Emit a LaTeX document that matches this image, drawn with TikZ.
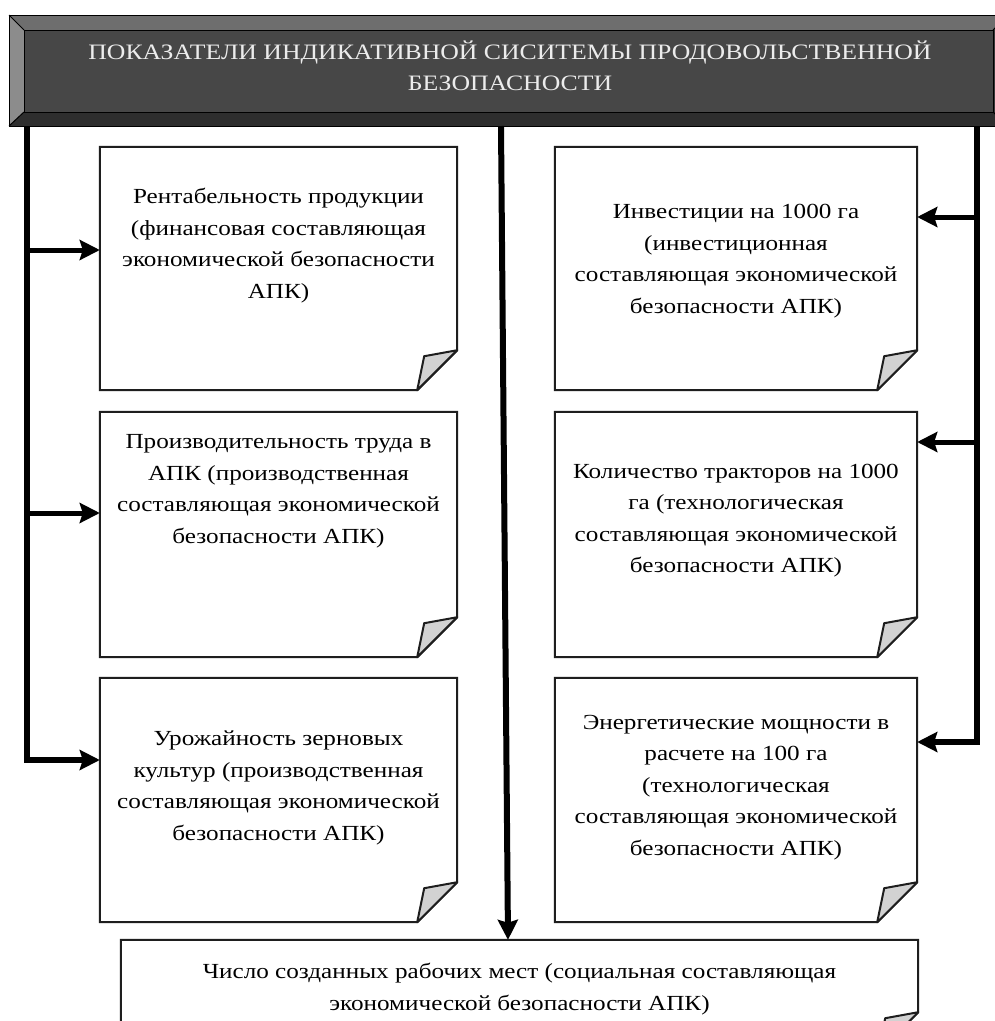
\documentclass[tikz,border=0pt]{standalone}
\usepackage{fontspec}
\setmainfont[FakeStretch=1.17]{Liberation Serif}
\usetikzlibrary{arrows.meta}
\definecolor{bevTop}{HTML}{6E6E6E}
\definecolor{bevLeft}{HTML}{8C8C8C}
\definecolor{bevBot}{HTML}{2E2E2E}
\definecolor{bevRight}{HTML}{383838}
\definecolor{faceGray}{HTML}{474747}
\definecolor{flapGray}{HTML}{D2D2D2}
\definecolor{edgeGray}{HTML}{1E1E1E}
\newcommand{\foldbox}[1]{%
  \draw[boxline] (#1.north west) -- (#1.north east) -- ([yshift=40pt]#1.south east)
     -- ([xshift=-40pt]#1.south east) -- (#1.south west) -- cycle;
  \draw[flapline] ([xshift=-40pt]#1.south east) -- ([xshift=-33pt,yshift=34pt]#1.south east)
     -- ([yshift=40pt]#1.south east) -- cycle;}
\begin{document}
\begin{tikzpicture}[x=1pt,y=-1pt,
  boxshape/.style={rectangle, inner sep=0pt, fill=white},
  boxline/.style={draw=edgeGray, line width=2pt, fill=white, line join=miter},
  flapline/.style={draw=edgeGray, line width=2pt, fill=flapGray, line join=round},
  boxtext/.style={align=center, inner sep=0pt, font=\fontsize{21.5}{31.5}\selectfont, text=black},
  trunk/.style={line width=6pt, line join=miter},
  branch/.style={line width=5pt, -{Stealth[length=20pt,width=20pt,inset=3pt]}},
  trunkarrow/.style={line width=6pt, line join=miter, -{Stealth[length=20pt,width=20pt,inset=3pt]}},
  bevel/.style={draw=black, line width=1pt}
]
\clip (0,0) rectangle (995,1021);
\fill[white] (0,0) rectangle (995,1021);

% header bevel
\fill[bevTop] (9,15) -- (1008,15) -- (993,30) -- (24,30) -- cycle;
\fill[bevLeft] (9,15) -- (24,30) -- (24,112) -- (9,126) -- cycle;
\fill[bevBot] (9,126) -- (24,112) -- (993,112) -- (1008,126) -- cycle;
\fill[bevRight] (1008,15) -- (993,30) -- (993,112) -- (1008,126) -- cycle;
\node[rectangle, fill=faceGray, draw=black, line width=1pt, minimum width=969pt, minimum height=82pt, inner sep=0pt] (H) at (508.5,71) {};
\draw[bevel] (9,15) rectangle (1008,126);
\draw[bevel] (9,15) -- (24,30) (9,126) -- (24,112) (1008,15) -- (993,30) (1008,126) -- (993,112);
\node[align=center, inner sep=0pt, font=\fontsize{22}{30.5}\selectfont, text={rgb,255:red,236;green,236;blue,236}] (Ht) at (510,66)
  {ПОКАЗАТЕЛИ ИНДИКАТИВНОЙ СИСИТЕМЫ ПРОДОВОЛЬСТВЕННОЙ\\БЕЗОПАСНОСТИ};

% boxes
\node[boxshape, minimum width=357pt, minimum height=243pt] (L1) at (278.5,268.5) {};
\node[boxshape, minimum width=357pt, minimum height=245pt] (L2) at (278.5,534.5) {};
\node[boxshape, minimum width=357pt, minimum height=244pt] (L3) at (278.5,800) {};
\node[boxshape, minimum width=362pt, minimum height=243pt] (R1) at (736,268.5) {};
\node[boxshape, minimum width=362pt, minimum height=245pt] (R2) at (736,534.5) {};
\node[boxshape, minimum width=362pt, minimum height=244pt] (R3) at (736,800) {};
\node[boxshape, minimum width=797pt, minimum height=112pt] (B) at (519.5,996) {};
\foldbox{L1}\foldbox{L2}\foldbox{L3}\foldbox{R1}\foldbox{R2}\foldbox{R3}\foldbox{B}

\node[boxtext] (L1t) at (278.5,245.5) {Рентабельность продукции\\(финансовая составляющая\\экономической безопасности\\АПК)};
\node[boxtext] (L2t) at (278.5,491) {Производительность труда в\\АПК (производственная\\составляющая экономической\\безопасности АПК)};
\node[boxtext] (L3t) at (278.5,788) {Урожайность зерновых\\культур (производственная\\составляющая экономической\\безопасности АПК)};
\node[boxtext] (R1t) at (736,261) {Инвестиции на 1000 га\\(инвестиционная\\составляющая экономической\\безопасности АПК)};
\node[boxtext] (R2t) at (736,520.5) {Количество тракторов на 1000\\га (технологическая\\составляющая экономической\\безопасности АПК)};
\node[boxtext] (R3t) at (736,787.5) {Энергетические мощности в\\расчете на 100 га\\(технологическая\\составляющая экономической\\безопасности АПК)};
\node[boxtext] (Bt) at (519.5,989) {Число созданных рабочих мест (социальная составляющая\\экономической безопасности АПК)};

% connectors
\coordinate (lt) at (27,126);
\coordinate (lb1) at (27,250);
\coordinate (lb2) at (27,513);
\coordinate (rt) at (977,126);
\coordinate (rb1) at (977,217);
\coordinate (rb2) at (977,442);
\coordinate (ct) at (501,126);

\draw[trunkarrow] (lt) |- (L3.west |- 0,760);
\draw[branch] (lb1) -- (L1.west |- lb1);
\draw[branch] (lb2) -- (L2.west |- lb2);
\draw[trunkarrow] (rt) |- (R3.east |- 0,742);
\draw[branch] (rb1) -- (R1.east |- rb1);
\draw[branch] (rb2) -- (R2.east |- rb2);
\draw[trunkarrow] (ct) -- (B.north -| 508,0);
\end{tikzpicture}
\end{document}
